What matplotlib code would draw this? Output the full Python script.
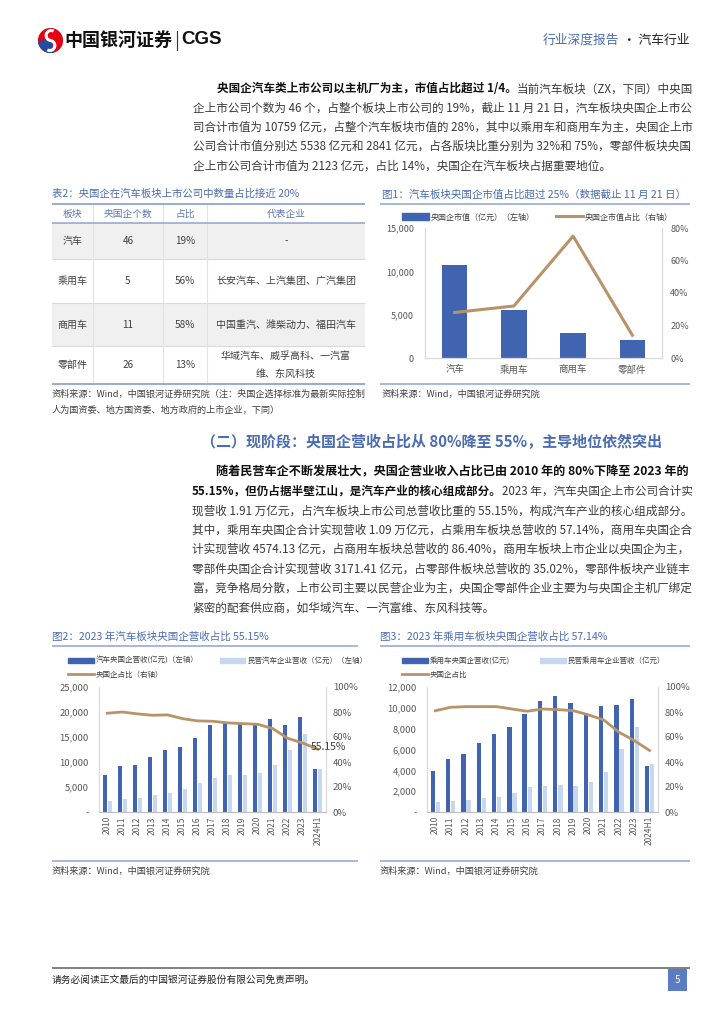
import numpy as np
import matplotlib
matplotlib.use('Agg')
import matplotlib.pyplot as plt
from matplotlib.lines import Line2D
from matplotlib.patches import Rectangle, Patch, Circle, Wedge, Arc
from matplotlib.ticker import FuncFormatter, MultipleLocator

# --------------------------
# 全局设置
# --------------------------
plt.rcParams['font.family'] = ['Noto Sans CJK SC', 'DejaVu Sans']
plt.rcParams['axes.unicode_minus'] = False

W, H = 724, 1024
BLUE_T = '#4A6CB3'     # 标题文字
LINE_B = '#8FA3D2'     # 标题分隔线
C_DARK = '#4064B0'
C_LIGHT = '#C8D7F0'
C_LINE = '#B89368'
TXT = '#3A3A3A'
BOLD_TXT = '#111111'
TICK = '#595959'
SPINE = '#D9D9D9'

# --------------------------
# 数据
# --------------------------
# 表2
tbl_header = ['板块', '央国企个数', '占比', '代表企业']
tbl_sector = ['汽车', '乘用车', '商用车', '零部件']
tbl_count = ['46', '5', '11', '26']
tbl_share = ['19%', '56%', '58%', '13%']
tbl_firms = ['-', '长安汽车、上汽集团、广汽集团', '中国重汽、潍柴动力、福田汽车',
             '华域汽车、威孚高科、一汽富\n维、东风科技']

# 图1
seg_names = ['汽车', '乘用车', '商用车', '零部件']
seg_mv = [10759, 5538, 2841, 2123]          # 亿元
seg_mv_share = [28, 32, 75, 14]             # %

# 图2 / 图3
years = ['2010', '2011', '2012', '2013', '2014', '2015', '2016', '2017', '2018',
         '2019', '2020', '2021', '2022', '2023', '2024H1']
soe_rev_auto = [7400, 9300, 9500, 11000, 12400, 13000, 14900, 17400, 17800,
                17600, 17500, 18600, 17400, 19100, 8600]
pri_rev_auto = [2200, 2600, 2800, 3400, 3800, 4600, 5800, 6800, 7400,
                7500, 7800, 9500, 12400, 15600, 8600]
soe_share_auto = [79.0, 80.0, 78.5, 77.4, 77.7, 74.7, 72.9, 72.6, 71.3,
                  70.7, 70.2, 66.8, 59.0, 55.15, 50.3]

soe_rev_pv = [3950, 5100, 5600, 6650, 7450, 8200, 9400, 10700, 11100,
              10450, 9400, 10150, 10250, 10850, 4400]
pri_rev_pv = [990, 1080, 1180, 1370, 1470, 1850, 2420, 2460, 2620,
              2520, 2840, 3800, 6060, 8170, 4620]
soe_share_pv = [81.0, 83.8, 84.3, 84.3, 84.3, 82.4, 80.6, 82.4, 81.9,
                81.1, 77.7, 73.7, 63.8, 57.14, 49.2]

# 正文
para1 = [
    [("央国企汽车类上市公司以主机厂为主，市值占比超过 1/4。", True), ("当前汽车板块（ZX，下同）中央国", False)],
    [("企上市公司个数为 46 个，占整个板块上市公司的 19%，截止 11 月 21 日，汽车板块央国企上市公", False)],
    [("司合计市值为 10759 亿元，占整个汽车板块市值的 28%，其中以乘用车和商用车为主，央国企上市", False)],
    [("公司合计市值分别达 5538 亿元和 2841 亿元，占各版块比重分别为 32%和 75%，零部件板块央国", False)],
    [("企上市公司合计市值为 2123 亿元，占比 14%，央国企在汽车板块占据重要地位。", False)],
]
para2 = [
    [("随着民营车企不断发展壮大，央国企营业收入占比已由 2010 年的 80%下降至 2023 年的", True)],
    [("55.15%，但仍占据半壁江山，是汽车产业的核心组成部分。", True), ("2023 年，汽车央国企上市公司合计实", False)],
    [("现营收 1.91 万亿元，占汽车板块上市公司总营收比重的 55.15%，构成汽车产业的核心组成部分。", False)],
    [("其中，乘用车央国企合计实现营收 1.09 万亿元，占乘用车板块总营收的 57.14%，商用车央国企合", False)],
    [("计实现营收 4574.13 亿元，占商用车板块总营收的 86.40%，商用车板块上市企业以央国企为主，", False)],
    [("零部件央国企合计实现营收 3171.41 亿元，占零部件板块总营收的 35.02%，零部件板块产业链丰", False)],
    [("富，竞争格局分散，上市公司主要以民营企业为主，央国企零部件企业主要为与央国企主机厂绑定", False)],
    [("紧密的配套供应商，如华域汽车、一汽富维、东风科技等。", False)],
]

fig = plt.figure(figsize=(7.24, 10.24), dpi=100)
renderer = fig.canvas.get_renderer()


def fx(x):
    return x / W


def fy(y):
    return 1 - y / H


def text(x, y, s, **kw):
    return fig.text(fx(x), fy(y), s, **kw)


def hline(x0, x1, y, color, lw):
    fig.add_artist(Line2D([fx(x0), fx(x1)], [fy(y), fy(y)], transform=fig.transFigure,
                          color=color, lw=lw, solid_capstyle='butt'))


def vline(x, y0, y1, color, lw):
    fig.add_artist(Line2D([fx(x), fx(x)], [fy(y0), fy(y1)], transform=fig.transFigure,
                          color=color, lw=lw))


def put_line(x, y, segs, size, width=None):
    # 两端对齐：按目标宽度微调字号
    if width is not None:
        tot = 0
        for s, b in segs:
            t = text(0, 0.5, s, fontsize=size, fontweight='bold' if b else 'normal')
            tot += t.get_window_extent(renderer).width
            t.remove()
        size = size * min(max(width / tot, 0.9), 1.1)
    cx = x
    for s, b in segs:
        t = text(cx, y, s, fontsize=size, va='center',
                 fontweight='bold' if b else 'normal',
                 color=BOLD_TXT if b else TXT)
        cx += t.get_window_extent(renderer).width


# --------------------------
# 页眉
# --------------------------
ax_logo = fig.add_axes([fx(38), fy(53), 25 / W, 25 / H])
ax_logo.set_xlim(-1, 1)
ax_logo.set_ylim(-1, 1)
ax_logo.axis('off')
ax_logo.add_patch(Circle((0, 0), 0.95, color='#E60012'))
ax_logo.add_patch(Wedge((0, 0), 0.95, 185, 285, color='#1F4E9E'))
ax_logo.add_patch(Arc((0.05, 0.4), 0.8, 0.8, theta1=60, theta2=270, color='white', lw=2.2))
ax_logo.add_patch(Arc((-0.05, -0.4), 0.8, 0.8, theta1=240, theta2=450, color='white', lw=2.2))

text(64, 40, '中国银河证券', fontsize=13, fontweight='bold', color='#111111', va='center')
vline(177, 31, 50, '#333333', 0.8)
text(181, 40, 'CGS', fontsize=13.5, fontweight='bold', color='#111111', va='center',
     family=['Liberation Sans', 'DejaVu Sans'])
t_hd = text(543, 40, '行业深度报告', fontsize=9.2, color=BLUE_T, va='center')
text(543 + t_hd.get_window_extent(renderer).width, 40, ' · 汽车行业', fontsize=9.2,
     color='#222222', va='center')

# --------------------------
# 第一段正文
# --------------------------
y0 = 89
for i, segs in enumerate(para1):
    x = 217 if i == 0 else 193
    width = None if i == len(para1) - 1 else 690 - x
    put_line(x, y0 + 19.2 * i, segs, 8.4, width)

# --------------------------
# 表2
# --------------------------
text(52, 194, '表2：央国企在汽车板块上市公司中数量占比接近 20%', fontsize=7.5, color=BLUE_T, va='center')
col_x = [52, 93, 163, 207, 365]
row_y = [204, 223, 259, 303, 346, 384]
for r in range(4):
    if r % 2 == 0:
        fig.add_artist(Rectangle((fx(52), fy(row_y[r + 2])), (365 - 52) / W,
                                 (row_y[r + 2] - row_y[r + 1]) / H,
                                 transform=fig.transFigure, color='#F0F0F0', lw=0))
for yy in row_y[2:-1]:
    hline(52, 365, yy, '#D9D9D9', 0.8)
for xx in col_x[1:-1]:
    vline(xx, 204, 384, '#E3E3E3', 0.8)
hline(52, 365, 204, LINE_B, 1.3)
hline(52, 365, 223, LINE_B, 1.1)
hline(52, 365, 384, LINE_B, 1.3)
centers = [(col_x[i] + col_x[i + 1]) / 2 for i in range(4)]
for c, h in zip(centers, tbl_header):
    text(c, 214, h, fontsize=7, color='#5C76B6', ha='center', va='center')
for r in range(4):
    yc = (row_y[r + 1] + row_y[r + 2]) / 2
    cells = [tbl_sector[r], tbl_count[r], tbl_share[r], tbl_firms[r]]
    for c, s in zip(centers, cells):
        text(c, yc, s, fontsize=7.2, color='#404040', ha='center', va='center', linespacing=2.0)
text(52, 394, '资料来源：Wind，中国银河证券研究院（注：央国企选择标准为最新实际控制',
     fontsize=6.6, color='#404040', va='center', style='italic')
text(52, 410, '人为国资委、地方国资委、地方政府的上市企业，下同）',
     fontsize=6.6, color='#404040', va='center', style='italic')

# --------------------------
# 图1
# --------------------------
text(382, 195, '图1：汽车板块央国企市值占比超过 25%（数据截止 11 月 21 日）', fontsize=7.6,
     color=BLUE_T, va='center')
hline(380, 690, 204, LINE_B, 1.1)
hline(380, 690, 384, LINE_B, 1.1)
text(382, 394, '资料来源：Wind，中国银河证券研究院', fontsize=6.6, color='#404040',
     va='center', style='italic')

ax1 = fig.add_axes([fx(425), fy(358), (662 - 425) / W, (358 - 228) / H])
xc = np.arange(len(seg_names))
ax1.bar(xc, seg_mv, width=0.43, color=C_DARK)
ax1.set_xlim(-0.5, len(seg_names) - 0.5)
ax1.set_ylim(0, 15000)
ax1.yaxis.set_major_locator(MultipleLocator(5000))
ax1.yaxis.set_major_formatter(FuncFormatter(lambda v, p: f'{v:,.0f}'))
ax1.set_xticks(xc)
ax1.set_xticklabels(seg_names)
ax1b = ax1.twinx()
ax1b.plot(xc, seg_mv_share, color=C_LINE, lw=2.2)
ax1b.set_ylim(0, 80)
ax1b.yaxis.set_major_locator(MultipleLocator(20))
ax1b.yaxis.set_major_formatter(FuncFormatter(lambda v, p: f'{v:.0f}%'))
for a in (ax1, ax1b):
    a.spines['top'].set_visible(False)
    for s in ('left', 'right', 'bottom'):
        a.spines[s].set_color(SPINE)
        a.spines[s].set_linewidth(0.8)
ax1.tick_params(axis='y', length=0, labelsize=6.5, labelcolor=TICK, pad=8)
ax1.tick_params(axis='x', length=0, labelsize=6.8, labelcolor=TICK, pad=5)
ax1b.tick_params(axis='y', length=0, labelsize=6.5, labelcolor=TICK, pad=6)
ax1.legend([Patch(color=C_DARK), Line2D([], [], color=C_LINE, lw=2.2)],
           ['央国企市值（亿元）（左轴）', '央国企市值占比（右轴）'],
           loc='center left', bbox_to_anchor=(fx(402), fy(217)), bbox_transform=fig.transFigure,
           ncol=2, frameon=False, fontsize=5.8, handlelength=3.3, handleheight=0.9,
           handletextpad=0.3, columnspacing=2.6, borderpad=0, borderaxespad=0,
           labelcolor='#404040')

# --------------------------
# 二级标题
# --------------------------
text(201, 442, '（二）现阶段：央国企营收占比从 80%降至 55%，主导地位依然突出',
     fontsize=10.8, fontweight='bold', color=BLUE_T, va='center')

# --------------------------
# 第二段正文
# --------------------------
y0 = 472
for i, segs in enumerate(para2):
    x = 216 if i == 0 else 192
    width = None if i == len(para2) - 1 else 690 - x
    put_line(x, y0 + 19.4 * i, segs, 8.4, width)


# --------------------------
# 图2 / 图3 营收柱状图
# --------------------------
def rev_chart(rect, soe, pri, share, ymax, ystep, labels, leg_xy, colsp):
    ax = fig.add_axes(rect)
    xi = np.arange(len(years))
    ax.bar(xi - 0.165, soe, width=0.29, color=C_DARK)
    ax.bar(xi + 0.165, pri, width=0.29, color=C_LIGHT)
    ax.set_xlim(-0.55, len(years) - 0.45)
    ax.set_ylim(0, ymax)
    ax.yaxis.set_major_locator(MultipleLocator(ystep))
    ax.yaxis.set_major_formatter(FuncFormatter(lambda v, p: '-' if v == 0 else f'{v:,.0f}'))
    ax.set_xticks(xi)
    ax.set_xticklabels(years, rotation=90)
    axb = ax.twinx()
    axb.plot(xi, share, color=C_LINE, lw=2.0)
    axb.set_ylim(0, 100)
    axb.yaxis.set_major_locator(MultipleLocator(20))
    axb.yaxis.set_major_formatter(FuncFormatter(lambda v, p: f'{v:.0f}%'))
    for a in (ax, axb):
        a.spines['top'].set_visible(False)
        for s in ('left', 'right'):
            a.spines[s].set_color(SPINE)
            a.spines[s].set_linewidth(0.8)
        a.spines['bottom'].set_color('#BFBFBF')
        a.spines['bottom'].set_linewidth(0.8)
    ax.tick_params(axis='y', length=0, labelsize=6.8, labelcolor=TICK, pad=7.5)
    ax.tick_params(axis='x', length=0, labelsize=6.0, labelcolor=TICK, pad=3)
    axb.tick_params(axis='y', length=0, labelsize=6.8, labelcolor=TICK, pad=5)
    ax.legend([Patch(color=C_DARK), Line2D([], [], color=C_LINE, lw=2.0), Patch(color=C_LIGHT)],
              [labels[0], labels[2], labels[1]],
              loc='upper left', bbox_to_anchor=(fx(leg_xy[0]), fy(leg_xy[1])),
              bbox_transform=fig.transFigure, ncol=2, frameon=False, fontsize=5.4,
              handlelength=3.4, handleheight=0.6, handletextpad=0.3, columnspacing=colsp,
              labelspacing=0.75, borderpad=0, borderaxespad=0, labelcolor='#404040')
    return ax, axb


text(52, 637, '图2：2023 年汽车板块央国企营收占比 55.15%', fontsize=7.6, color=BLUE_T, va='center')
hline(52, 358, 646, LINE_B, 1.1)
hline(52, 358, 861, LINE_B, 1.1)
text(52, 871, '资料来源：Wind，中国银河证券研究院', fontsize=6.6, color='#404040',
     va='center', style='italic')
ax2, ax2b = rev_chart([fx(99), fy(812), (326 - 99) / W, (812 - 687) / H],
                      soe_rev_auto, pri_rev_auto, soe_share_auto, 25000, 5000,
                      ['汽车央国企营收(亿元)（左轴）', '民营汽车企业营收（亿元）（左轴）', '央国企占比（右轴）'],
                      (68, 657), 2.8)
ax2b.annotate(f'{soe_share_auto[13]:.2f}%', xy=(13, soe_share_auto[13]), xytext=(6, -3),
              textcoords='offset points', fontsize=7.5, color='#404040', va='center', ha='left')

text(380, 637, '图3：2023 年乘用车板块央国企营收占比 57.14%', fontsize=7.6, color=BLUE_T, va='center')
hline(380, 690, 646, LINE_B, 1.1)
hline(380, 690, 861, LINE_B, 1.1)
text(380, 871, '资料来源：Wind，中国银河证券研究院', fontsize=6.6, color='#404040',
     va='center', style='italic')
rev_chart([fx(427), fy(812), (658 - 427) / W, (812 - 687) / H],
          soe_rev_pv, pri_rev_pv, soe_share_pv, 12000, 2000,
          ['乘用车央国企营收(亿元)', '民营乘用车企业营收（亿元）', '央国企占比'],
          (402, 657), 4.0)

# --------------------------
# 页脚
# --------------------------
hline(52, 690, 968, '#808080', 1.4)
text(52, 980, '请务必阅读正文最后的中国银河证券股份有限公司免责声明。', fontsize=7,
     color='#222222', va='center')
fig.add_artist(Rectangle((fx(668), fy(991)), 19 / W, 22 / H, transform=fig.transFigure,
                         color='#5B7CC2', lw=0))
text(677.5, 980, '5', fontsize=7, color='white', ha='center', va='center')

fig.savefig('out.png', dpi=100)
